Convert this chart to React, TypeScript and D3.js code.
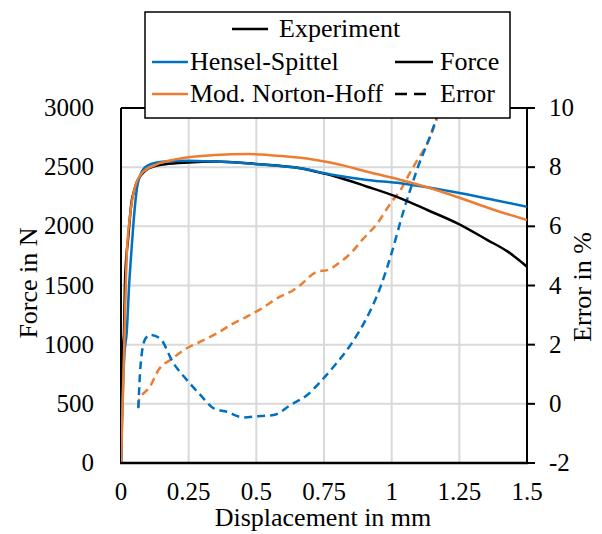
import React from "react";
import * as d3 from "d3";

// ---------- data ----------
const xTicks = [0, 0.25, 0.5, 0.75, 1, 1.25, 1.5];
const xTickLabels = ["0", "0.25", "0.5", "0.75", "1", "1.25", "1.5"];
const forceTicks = [0, 500, 1000, 1500, 2000, 2500, 3000];
const errorTicks = [-2, 0, 2, 4, 6, 8, 10];

// Experiment force [displacement mm, force N]
const experimentForce: [number, number][] = [
  [0, 0], [0.004, 500], [0.008, 1000], [0.011, 1096], [0.015, 1550], [0.027, 1912],
  [0.04, 2222], [0.046, 2279], [0.058, 2370], [0.07, 2420], [0.089, 2470],
  [0.126, 2510], [0.163, 2525], [0.249, 2540], [0.348, 2547], [0.496, 2527],
  [0.663, 2490], [0.719, 2462], [0.786, 2425], [0.91, 2335], [1.033, 2237],
  [1.132, 2138], [1.243, 2025], [1.354, 1884], [1.429, 1786], [1.5, 1659],
];

// Hensel-Spittel force
const henselForce: [number, number][] = [
  [0, 0], [0.003, 300], [0.012, 900], [0.021, 1100], [0.031, 1546], [0.037, 1743],
  [0.046, 2025], [0.058, 2307], [0.077, 2462], [0.101, 2518], [0.163, 2547],
  [0.249, 2555], [0.348, 2547], [0.496, 2527], [0.663, 2490], [0.786, 2434],
  [0.91, 2392], [1.033, 2364], [1.132, 2330], [1.256, 2279], [1.379, 2222], [1.5, 2166],
];

// Mod. Norton-Hoff force
const nortonForce: [number, number][] = [
  [0, 0], [0.004, 300], [0.012, 1000], [0.016, 1350], [0.021, 1743], [0.033, 2081],
  [0.052, 2335], [0.077, 2448], [0.126, 2518], [0.225, 2575], [0.348, 2603],
  [0.471, 2611], [0.595, 2594], [0.719, 2561], [0.786, 2533], [0.91, 2462],
  [1.033, 2392], [1.132, 2330], [1.256, 2237], [1.379, 2138], [1.5, 2054],
];

// Hensel-Spittel error [displacement mm, error %]
const henselError: [number, number][] = [
  [0.064, -0.15], [0.07, 1.0], [0.077, 1.72], [0.09, 2.2], [0.107, 2.33], [0.144, 2.21],
  [0.194, 1.37], [0.243, 0.81], [0.293, 0.3], [0.342, -0.15], [0.391, -0.27],
  [0.453, -0.46], [0.515, -0.41], [0.564, -0.38], [0.626, -0.04], [0.688, 0.3],
  [0.737, 0.75], [0.786, 1.26], [0.848, 1.99], [0.897, 2.72], [0.959, 3.96],
  [1.0, 5.1], [1.04, 6.4], [1.093, 7.9], [1.163, 9.6], [1.185, 10.3],
];

// Mod. Norton-Hoff error
const nortonError: [number, number][] = [
  [0.064, -0.1], [0.068, 0.2], [0.075, 0.28], [0.107, 0.58], [0.138, 1.14],
  [0.188, 1.52], [0.243, 1.88], [0.293, 2.1], [0.354, 2.38], [0.404, 2.66],
  [0.465, 2.95], [0.521, 3.23], [0.577, 3.57], [0.638, 3.85], [0.663, 4.02],
  [0.725, 4.47], [0.762, 4.52], [0.811, 4.8], [0.854, 5.14], [0.891, 5.54],
  [0.947, 6.1], [0.996, 6.78], [1.033, 7.23], [1.07, 7.85], [1.095, 8.24],
  [1.132, 8.81], [1.157, 9.37], [1.185, 10.2],
];

// ---------- layout ----------
const W = 602, H = 534;
const L = 121, R = 527, T = 108, B = 463;
const BLUE = "#0070C0", ORANGE = "#ED7D31", GRID = "#d9d9d9";
const FONT = '"Liberation Serif", "Times New Roman", Times, serif';
const txt = (size: number) => ({ fontFamily: FONT, fontSize: size + "px", fill: "#000" });

export default function App() {
  const x = d3.scaleLinear().domain([0, 1.5]).range([L, R]);
  const yF = d3.scaleLinear().domain([0, 3000]).range([B, T]);
  const yE = d3.scaleLinear().domain([-2, 10]).range([B, T]);

  const sortByX = (a: [number, number][]) => [...a].sort((p, q) => p[0] - q[0]);
  const lineF = d3.line<[number, number]>().x(d => x(d[0])).y(d => yF(d[1])).curve(d3.curveMonotoneX);
  const lineE = d3.line<[number, number]>().x(d => x(d[0])).y(d => yE(d[1])).curve(d3.curveMonotoneX);

  return (
    <svg width={W} height={H} style={{ position: "absolute", left: 0, top: 0, background: "#fff" }}>
      <defs>
        <clipPath id="plot"><rect x={L} y={T} width={R - L} height={B - T} /></clipPath>
      </defs>
      {/* grid */}
      {xTicks.slice(1, -1).map(t => (
        <line key={"gx" + t} x1={x(t)} x2={x(t)} y1={T} y2={B} stroke={GRID} strokeWidth={2} />
      ))}
      {forceTicks.slice(1, -1).map(t => (
        <line key={"gy" + t} x1={L} x2={R} y1={yF(t)} y2={yF(t)} stroke={GRID} strokeWidth={2} />
      ))}
      {/* frame */}
      <line x1={L} x2={R} y1={T} y2={T} stroke="#000" strokeWidth={2} />
      <line x1={L} x2={L} y1={T} y2={B} stroke="#000" strokeWidth={2} />
      <line x1={R} x2={R} y1={T} y2={B} stroke="#000" strokeWidth={2} />
      {errorTicks.map(t => (
        <line key={"rt" + t} x1={R} x2={R + 8} y1={yE(t)} y2={yE(t)} stroke="#000" strokeWidth={2} />
      ))}
      {/* curves */}
      <g clipPath="url(#plot)" fill="none">
        <path d={lineE(sortByX(nortonError)) || ""} stroke={ORANGE} strokeWidth={2.5} strokeDasharray="8,5" />
        <path d={lineE(sortByX(henselError)) || ""} stroke={BLUE} strokeWidth={2.5} strokeDasharray="8,5" />
        <path d={lineF(sortByX(experimentForce)) || ""} stroke="#000" strokeWidth={2.5} />
        <path d={lineF(sortByX(henselForce)) || ""} stroke={BLUE} strokeWidth={2.5} />
        <path d={lineF(sortByX(nortonForce)) || ""} stroke={ORANGE} strokeWidth={2.5} />
      </g>
      <line x1={L - 1} x2={R + 1} y1={B} y2={B} stroke="#000" strokeWidth={2.5} />
      {/* tick labels */}
      {forceTicks.map(t => (
        <text key={"fl" + t} x={94} y={yF(t) + 8} textAnchor="end" style={txt(25)}>{t}</text>
      ))}
      {errorTicks.map(t => (
        <text key={"el" + t} x={549} y={yE(t) + 8} textAnchor="start" style={txt(25)}>{t}</text>
      ))}
      {xTicks.map((t, i) => (
        <text key={"xl" + t} x={x(t)} y={500} textAnchor="middle" style={txt(25)}>{xTickLabels[i]}</text>
      ))}
      {/* axis titles */}
      <text x={323} y={526} textAnchor="middle" style={txt(26)}>Displacement in mm</text>
      <text transform={`translate(37,283) rotate(-90)`} textAnchor="middle" style={txt(26)}>Force in N</text>
      <text transform={`translate(591,287) rotate(-90)`} textAnchor="middle" style={txt(26)}>Error in %</text>
      {/* legend */}
      <rect x={145} y={12} width={365} height={106} fill="#fff" stroke="#000" strokeWidth={1.5} />
      <line x1={232} x2={268} y1={29} y2={29} stroke="#000" strokeWidth={2.5} />
      <text x={279} y={37} style={txt(26)}>Experiment</text>
      <line x1={152} x2={188} y1={62} y2={62} stroke={BLUE} strokeWidth={2.5} />
      <text x={190} y={70} style={txt(26)}>Hensel-Spittel</text>
      <line x1={152} x2={188} y1={94} y2={94} stroke={ORANGE} strokeWidth={2.5} />
      <text x={190} y={102} style={txt(26)}>Mod. Norton-Hoff</text>
      <line x1={395} x2={433} y1={62} y2={62} stroke="#000" strokeWidth={2.5} />
      <text x={440} y={70} style={txt(26)}>Force</text>
      <line x1={395} x2={433} y1={94} y2={94} stroke="#000" strokeWidth={2.5} strokeDasharray="12,7" />
      <text x={440} y={102} style={txt(26)}>Error</text>
    </svg>
  );
}
